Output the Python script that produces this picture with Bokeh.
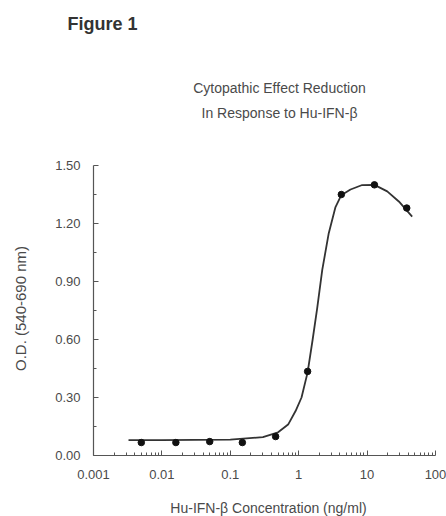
import math
from bokeh.plotting import figure
from bokeh.models import FixedTicker, Label, Range1d, NumeralTickFormatter
from bokeh.embed import file_html
from bokeh.resources import INLINE

# Data
conc = [0.005, 0.016, 0.05, 0.15, 0.46, 1.35, 4.2, 12.8, 38.0]
od = [0.067, 0.067, 0.072, 0.067, 0.098, 0.435, 1.35, 1.40, 1.28]

# Fitted curve
fit_conc = [0.00325, 0.01, 0.03, 0.1, 0.3, 0.5, 0.7, 0.9, 1.1, 1.35, 1.6, 1.86, 2.21,
            2.75, 3.45, 4.18, 5.72, 8.48, 12.8, 19.7, 29.1, 45.6]
fit_od = [0.080, 0.080, 0.081, 0.082, 0.095, 0.12, 0.16, 0.23, 0.30, 0.43, 0.60, 0.76, 0.96,
          1.15, 1.285, 1.346, 1.376, 1.399, 1.40, 1.366, 1.314, 1.236]

x_ticks = [0.001, 0.01, 0.1, 1, 10, 100]
x_tick_labels = ["0.001", "0.01", "0.1", "1", "10", "100"]
x_min, x_max = 0.001, 100
y_ticks = [0.0, 0.3, 0.6, 0.9, 1.2, 1.5]
y_minor = [0.15, 0.45, 0.75, 1.05, 1.35]
y_min, y_max = 0.0, 1.5

FONT = "Liberation Sans"
TXT = "#4a4a4a"

# ---- layout (pixels); the frame covers the whole canvas ----
W, H = 446, 516
AX_LEFT, AX_RIGHT = 93, 435     # x pixels of x_min and x_max
AX_TOP, AX_BOTTOM = 165, 455    # y pixels of y_max and y_min
decades = math.log10(x_max / x_min)
px_per_dec = (AX_RIGHT - AX_LEFT) / decades
x_start = x_min / 10 ** (AX_LEFT / px_per_dec)
x_end = x_max * 10 ** ((W - AX_RIGHT) / px_per_dec)
px_per_unit = (AX_BOTTOM - AX_TOP) / (y_max - y_min)
y_start = y_min - (H - AX_BOTTOM) / px_per_unit
y_end = y_max + AX_TOP / px_per_unit

p = figure(width=W, height=H, x_axis_type="log", output_backend="svg",
           toolbar_location=None, x_range=Range1d(x_start, x_end), y_range=Range1d(y_start, y_end),
           min_border_left=0, min_border_right=0, min_border_top=0, min_border_bottom=0)

p.grid.visible = False
p.outline_line_color = None
p.background_fill_color = "white"

minor_x = [m * d for d in [0.001, 0.01, 0.1, 1, 10] for m in range(2, 10)]
p.xaxis.ticker = FixedTicker(ticks=x_ticks, minor_ticks=minor_x)
p.xaxis.major_label_overrides = {t: l for t, l in zip(x_ticks, x_tick_labels)}
p.xaxis.bounds = (x_min, x_max)
p.xaxis.fixed_location = y_min
p.yaxis.ticker = FixedTicker(ticks=y_ticks, minor_ticks=y_minor)
p.yaxis.formatter = NumeralTickFormatter(format="0.00")
p.yaxis.bounds = (y_min, y_max)
p.yaxis.fixed_location = x_min

for ax in [p.xaxis[0], p.yaxis[0]]:
    ax.axis_line_color = "#555555"
    ax.axis_line_width = 1.2
    ax.major_tick_line_color = "#555555"
    ax.minor_tick_line_color = "#555555"
    ax.major_tick_in = 5
    ax.major_tick_out = 0
    ax.minor_tick_in = 3
    ax.minor_tick_out = 0
    ax.major_label_text_font = FONT
    ax.major_label_text_font_size = "13px"
    ax.major_label_text_color = TXT

p.xaxis.major_label_standoff = 14
p.yaxis.major_label_standoff = 13

p.line(fit_conc, fit_od, line_color="#333333", line_width=1.8)
p.scatter(conc, od, size=6.5, fill_color="#111111", line_color="#111111")

def lab(text, px, py, size, align="center", angle=0.0, style="normal", color=TXT):
    # px, py: canvas pixel position -> screen units relative to the frame's bottom-left
    p.add_layout(Label(x=px, y=H - py, x_units="screen", y_units="screen",
                       text=text, angle=angle, text_font=FONT, text_font_size=size,
                       text_font_style=style, text_color=color,
                       text_align=align, text_baseline="middle"))

lab("Figure 1", 67, 23, "18px", align="left", style="bold", color="#333333")
lab("Cytopathic Effect Reduction", 279, 87, "14px")
lab("In Response to Hu-IFN-β", 279, 112, "14px")
lab("O.D. (540-690 nm)", 20, 308, "15px", angle=math.pi / 2)
lab("Hu-IFN-β Concentration (ng/ml)", 268, 507, "14px")

open("out.html", "w").write(file_html(p, INLINE))
